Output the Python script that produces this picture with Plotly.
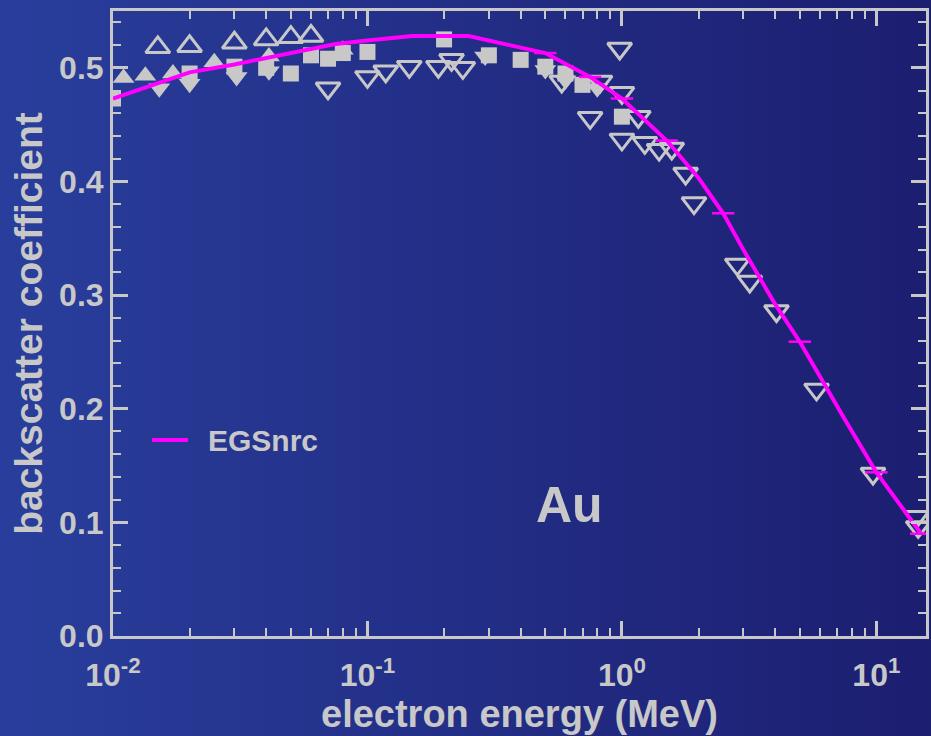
import base64
import plotly.graph_objects as go

# ---------------- data ----------------
# EGSnrc calculation (magenta line)
egs_energy = [0.01, 0.02, 0.03, 0.05, 0.075, 0.1, 0.15, 0.25, 0.5, 0.75, 1.0,
              1.5, 2.0, 2.5, 3.0, 4.0, 5.0, 7.5, 10, 15]
egs_coef = [0.473, 0.496, 0.503, 0.513, 0.521, 0.524, 0.528, 0.528, 0.513, 0.492, 0.473,
            0.436, 0.403, 0.372, 0.340, 0.292, 0.259, 0.191, 0.144, 0.090]
egs_cap_energy = [0.5, 0.75, 1.0, 1.5, 2.5, 5.0, 10, 15]

# experimental data sets (gray markers)
open_up_energy = [0.015, 0.02, 0.03, 0.04, 0.05, 0.06]
open_up_coef = [0.518, 0.519, 0.522, 0.525, 0.527, 0.528]

filled_up_energy = [0.011, 0.0134, 0.0172, 0.025, 0.041, 0.08]
filled_up_coef = [0.491, 0.493, 0.495, 0.505, 0.510, 0.516]

filled_down_energy = [0.0152, 0.020, 0.0306, 0.041, 0.29, 0.5, 0.6, 0.8]
filled_down_coef = [0.482, 0.486, 0.492, 0.497, 0.510, 0.498, 0.489, 0.482]

square_energy = [0.01, 0.02, 0.03, 0.04, 0.05, 0.06, 0.07, 0.08, 0.1, 0.2, 0.3, 0.4,
                 0.5, 0.6, 0.7, 1.0]
square_coef = [0.473, 0.495, 0.501, 0.500, 0.495, 0.511, 0.508, 0.513, 0.514, 0.525, 0.511,
               0.507, 0.501, 0.495, 0.485, 0.457]

open_down_energy = [0.07, 0.1, 0.118, 0.146, 0.19, 0.214, 0.237, 0.58, 0.75, 0.82, 0.98,
                    1.0, 1.0, 1.16, 1.23, 1.40, 1.57, 1.78, 1.92, 2.84, 3.18, 4.05, 5.82,
                    9.7, 14.4, 14.6]
open_down_coef = [0.482, 0.492, 0.497, 0.501, 0.501, 0.507, 0.500, 0.488, 0.456, 0.488, 0.517,
                  0.478, 0.437, 0.457, 0.434, 0.428, 0.429, 0.407, 0.381, 0.327, 0.312, 0.286,
                  0.217, 0.143, 0.105, 0.096]

x_tick_vals = [0.01, 0.1, 1, 10]
x_tick_text = ["10<sup>-2</sup>", "10<sup>-1</sup>", "10<sup>0</sup>", "10<sup>1</sup>"]
x_minor_vals = [m * d for d in (0.01, 0.1, 1, 10) for m in range(2, 10)]

legend_label = "EGSnrc"
panel_label = "Au"

# ---------------- style ----------------
W, H = 931, 736
ML, MR, MT, MB = 113, 5, 11, 100
GRAY = "#c8c8c8"
MAGENTA = "#ff00ff"
FONT = "Liberation Sans, Arial, Helvetica, sans-serif"
pw, ph = W - ML - MR, H - MT - MB

fig = go.Figure()

fig.add_trace(go.Scatter(x=open_up_energy, y=open_up_coef, mode="markers", showlegend=False,
                         marker=dict(symbol="triangle-up-open", size=21, color=GRAY,
                                     line=dict(width=3, color=GRAY))))
fig.add_trace(go.Scatter(x=filled_up_energy, y=filled_up_coef, mode="markers", showlegend=False,
                         marker=dict(symbol="triangle-up", size=19, color=GRAY,
                                     line=dict(width=0))))
fig.add_trace(go.Scatter(x=filled_down_energy, y=filled_down_coef, mode="markers", showlegend=False,
                         marker=dict(symbol="triangle-down", size=19, color=GRAY,
                                     line=dict(width=0))))
fig.add_trace(go.Scatter(x=square_energy, y=square_coef, mode="markers", showlegend=False,
                         marker=dict(symbol="square", size=16, color=GRAY,
                                     line=dict(width=0))))
fig.add_trace(go.Scatter(x=open_down_energy, y=open_down_coef, mode="markers", showlegend=False,
                         marker=dict(symbol="triangle-down-open", size=21, color=GRAY,
                                     line=dict(width=3, color=GRAY))))

fig.add_trace(go.Scatter(x=egs_energy, y=egs_coef, mode="lines", name=legend_label,
                         showlegend=False, line=dict(color=MAGENTA, width=4)))
cap_lookup = dict(zip(egs_energy, egs_coef))
fig.add_trace(go.Scatter(x=egs_cap_energy, y=[cap_lookup[e] for e in egs_cap_energy],
                         mode="markers", showlegend=False,
                         marker=dict(symbol="line-ew", size=16, color=MAGENTA,
                                     line=dict(width=2.5, color=MAGENTA))))

# gradient background
svg = (f'<svg xmlns="http://www.w3.org/2000/svg" width="{W}" height="{H}" preserveAspectRatio="none">'
       '<defs><linearGradient id="g" x1="0" y1="0" x2="1" y2="0">'
       '<stop offset="0" stop-color="rgb(41,62,156)"/>'
       '<stop offset="1" stop-color="rgb(28,30,112)"/>'
       '</linearGradient></defs>'
       f'<rect width="{W}" height="{H}" fill="url(#g)"/></svg>')
src = "data:image/svg+xml;base64," + base64.b64encode(svg.encode()).decode()

axis_common = dict(
    showline=True, linewidth=3, linecolor=GRAY, mirror="allticks",
    ticks="inside", ticklen=15, tickwidth=3, tickcolor=GRAY,
    showgrid=False, zeroline=False, automargin=False,
    tickfont=dict(family=FONT, size=32, color=GRAY, weight="bold"),
)

# manual legend (line sample + label), in paper coordinates
leg_y = (636 - 440) / ph
leg_x0, leg_x1, leg_tx = (152 - ML) / pw, (188 - ML) / pw, (206 - ML) / pw

fig.update_layout(
    width=W, height=H,
    margin=dict(l=ML, r=MR, t=MT, b=MB),
    paper_bgcolor="rgb(34,46,134)",
    plot_bgcolor="rgba(0,0,0,0)",
    showlegend=False,
    images=[dict(source=src, xref="paper", yref="paper",
                 x=-ML / pw, y=1 + MT / ph, sizex=W / pw, sizey=H / ph,
                 xanchor="left", yanchor="top", sizing="stretch", layer="below")],
    xaxis=dict(type="log", range=[-2, 1.195], tickmode="array",
               tickvals=x_tick_vals, ticktext=x_tick_text, ticklabelstandoff=9,
               minor=dict(tickmode="array", tickvals=x_minor_vals, ticks="inside",
                          ticklen=8, tickwidth=2, tickcolor=GRAY, showgrid=False),
               title=dict(text="electron energy (MeV)", standoff=4,
                          font=dict(family=FONT, size=38, color=GRAY, weight="bold")),
               **axis_common),
    yaxis=dict(range=[0, 0.55], dtick=0.1, tick0=0, tickformat=".1f",
               minor=dict(dtick=0.02, ticks="inside", ticklen=8, tickwidth=2,
                          tickcolor=GRAY, showgrid=False),
               title=dict(text="backscatter coefficient", standoff=5,
                          font=dict(family=FONT, size=39, color=GRAY, weight="bold")),
               **axis_common),
    shapes=[dict(type="line", xref="paper", yref="paper", x0=leg_x0, x1=leg_x1,
                 y0=leg_y, y1=leg_y, line=dict(color=MAGENTA, width=4))],
    annotations=[
        dict(text=legend_label, xref="paper", yref="paper", x=leg_tx, y=leg_y,
             showarrow=False, xanchor="left", yanchor="middle",
             font=dict(family=FONT, size=30, color=GRAY, weight="bold")),
        dict(text=panel_label, xref="paper", yref="paper", x=0.562, y=0.21,
             showarrow=False, xanchor="center", yanchor="middle",
             font=dict(family=FONT, size=50, color=GRAY, weight="bold")),
    ],
)

fig.write_html("out.html", config={"displayModeBar": False},
               post_script="document.body.style.margin='0';document.body.style.padding='0';"
                           "document.documentElement.style.overflow='hidden';")
